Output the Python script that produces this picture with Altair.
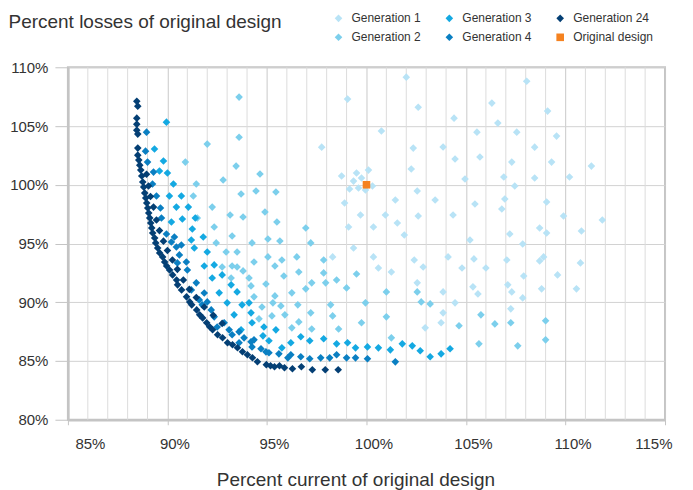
import altair as alt
import pandas as pd

# ---- data (percent of original design) ----
gen1 = [
    (99.05, 107.29), (97.75, 103.2), (98.75, 100.74), (99.5, 101.0), (99.35, 100.31), (99.75, 100.57),
    (100.1, 101.25), (99.15, 99.64), (99.6, 99.72), (99.95, 99.55), (100.3, 99.89), (98.9, 98.45),
    (99.7, 97.43), (99.1, 96.41), (100.35, 96.41), (99.35, 94.62), (100.95, 97.43), (101.45, 98.7),
    (101.55, 96.75), (101.9, 95.73), (100.75, 104.57), (102.0, 109.16), (102.6, 106.6), (102.35, 103.12),
    (102.25, 101.34), (102.55, 99.47), (102.6, 97.34), (103.45, 98.7), (103.85, 103.21), (104.45, 102.19),
    (104.4, 105.67), (104.35, 97.43), (104.95, 100.49), (108.05, 108.81), (106.3, 106.95), (109.1, 106.27),
    (106.6, 105.25), (105.55, 104.48), (107.55, 104.48), (109.55, 104.14), (108.45, 103.2), (105.7, 102.36),
    (107.3, 101.93), (109.3, 101.93), (111.3, 101.59), (106.9, 100.66), (108.45, 100.57), (110.2, 100.66),
    (107.45, 99.89), (106.95, 98.79), (105.45, 98.36), (106.8, 97.94), (109.05, 98.53), (109.9, 97.34),
    (111.85, 97.0), (107.2, 95.81), (108.7, 96.32), (109.05, 95.9), (110.8, 96.07), (105.2, 95.3),
    (107.85, 94.96), (105.4, 93.69), (107.05, 93.6), (108.7, 93.52), (108.9, 93.86), (110.75, 93.35),
    (104.8, 92.92), (106.0, 92.92), (107.9, 92.24), (109.6, 92.33), (105.35, 91.31), (105.6, 90.71),
    (107.1, 91.48), (107.3, 90.88), (108.8, 91.14), (110.55, 91.14), (107.85, 90.37), (104.45, 89.95),
    (107.25, 89.44), (100.35, 93.86), (100.6, 92.92), (101.25, 92.58), (102.4, 93.6), (102.85, 93.0),
    (104.1, 93.86), (102.55, 91.65), (103.85, 90.88), (103.85, 89.1), (103.75, 88.25), (102.95, 87.82),
    (98.3, 93.86),
]
gen2 = [
    (90.9, 101.93), (92.0, 103.46), (91.45, 100.06), (91.3, 99.04), (92.25, 98.1), (91.5, 97.17),
    (93.15, 97.43), (92.35, 96.41), (92.8, 100.4), (93.25, 95.64), (92.45, 95.05), (93.6, 104.05),
    (93.6, 107.46), (93.45, 101.59), (94.65, 100.91), (93.7, 99.21), (94.45, 99.47), (95.45, 99.38),
    (93.8, 97.26), (94.9, 97.68), (95.5, 96.83), (94.25, 95.05), (95.05, 95.38), (95.65, 95.21),
    (96.95, 96.32), (97.2, 95.05), (94.35, 93.43), (95.05, 93.86), (95.75, 93.6), (96.5, 93.86),
    (95.4, 93.09), (97.85, 93.6), (96.6, 92.58), (97.85, 92.5), (99.5, 92.41), (94.2, 91.39),
    (94.95, 91.56), (95.85, 92.24), (97.95, 91.65), (98.5, 91.9), (97.25, 91.65), (96.95, 91.14),
    (96.25, 90.8), (99.0, 91.22), (94.35, 90.46), (95.4, 90.54), (101.0, 90.88), (94.75, 89.6),
    (95.3, 89.95), (95.7, 89.69), (96.55, 89.78), (98.2, 89.78), (99.95, 89.95), (95.25, 88.84),
    (95.9, 88.93), (97.2, 89.1), (98.3, 88.84), (101.0, 88.76), (99.75, 88.25), (96.6, 88.33),
    (94.6, 88.59), (96.25, 87.82), (97.25, 87.73), (98.6, 87.73), (101.25, 86.97), (105.75, 88.93),
    (104.65, 88.0), (106.45, 88.16), (107.25, 88.25), (109.0, 88.42), (105.65, 86.46), (107.6, 86.29),
    (109.0, 86.8), (102.55, 90.88), (102.75, 90.03), (103.2, 89.86), (92.95, 94.28), (93.5, 94.28),
    (92.75, 93.0), (93.5, 93.0), (93.2, 92.07), (94.1, 92.07), (93.8, 92.67), (93.25, 93.09),
]
gen3 = [
    (89.95, 105.33), (89.35, 103.04), (89.8, 102.02), (89.6, 101.17), (90.0, 101.0), (90.3, 100.06),
    (90.1, 99.04), (90.7, 99.04), (90.45, 98.1), (91.05, 98.1), (90.2, 96.83), (90.75, 97.09),
    (91.4, 97.17), (91.25, 96.24), (91.8, 95.56), (91.2, 95.3), (91.35, 94.62), (92.0, 94.28),
    (91.85, 93.09), (92.35, 93.18), (92.25, 92.07), (92.75, 92.33), (92.6, 90.8), (93.2, 91.48),
    (93.0, 89.95), (93.5, 90.88), (93.35, 88.93), (93.75, 89.78), (93.7, 87.65), (94.2, 89.1),
    (94.25, 88.25), (94.1, 89.95), (94.85, 87.9), (95.45, 87.65), (94.8, 87.14), (95.1, 86.72),
    (95.75, 86.12), (96.2, 86.55), (96.7, 87.06), (97.15, 86.72), (97.85, 86.89), (98.5, 86.46),
    (99.05, 86.55), (99.45, 86.12), (100.05, 86.2), (100.6, 86.12), (101.2, 85.95), (101.8, 86.46),
    (102.3, 86.29), (102.7, 85.87), (103.2, 85.36), (103.75, 85.61), (104.2, 86.04),
]
gen4 = [
    (88.95, 104.48), (88.9, 102.86), (89.0, 101.93), (89.3, 101.08), (89.25, 100.06), (89.45, 99.04),
    (89.65, 98.02), (89.7, 97.17), (89.95, 95.81), (90.35, 95.56), (90.2, 95.13), (90.45, 94.7),
    (90.7, 94.87), (90.6, 94.03), (90.95, 93.43), (90.5, 93.35), (91.0, 92.75), (91.45, 91.65),
    (91.2, 91.05), (91.6, 90.2), (91.85, 90.79), (92.0, 90.03), (91.75, 89.78), (92.2, 89.35),
    (92.35, 88.76), (92.5, 87.9), (92.85, 88.25), (93.1, 87.65), (93.25, 87.23), (93.6, 87.48),
    (93.6, 86.55), (93.85, 86.97), (94.2, 86.63), (94.35, 86.8), (94.25, 86.2), (94.7, 86.04),
    (94.95, 85.78), (95.1, 85.7), (95.6, 85.61), (96.05, 85.27), (96.2, 85.53), (96.7, 85.36),
    (97.15, 85.19), (97.7, 85.27), (98.15, 85.27), (98.5, 85.53), (99.0, 85.27), (99.45, 85.27),
    (100.05, 85.19), (101.45, 84.93),
]
gen24 = [
    (88.46, 107.11), (88.51, 106.69), (88.46, 105.67), (88.46, 105.16), (88.46, 104.65), (88.51, 104.31),
    (88.51, 103.12), (88.51, 102.52), (88.56, 102.1), (88.61, 101.67), (88.66, 101.25), (88.71, 100.74),
    (88.76, 100.23), (88.81, 99.8), (88.86, 99.29), (88.91, 98.87), (88.96, 98.45), (89.01, 98.02),
    (89.06, 97.6), (89.11, 97.18), (89.16, 96.75), (89.21, 96.33), (89.26, 95.9), (89.36, 95.47),
    (89.41, 95.05), (89.51, 94.62), (89.61, 94.2), (89.76, 93.86), (89.86, 93.43), (89.96, 93.09),
    (90.11, 92.75), (90.26, 92.33), (90.46, 91.9), (90.51, 91.48), (90.71, 91.05), (90.96, 90.46),
    (91.12, 90.03), (91.22, 89.78), (91.47, 89.35), (91.62, 88.93), (91.77, 88.67), (91.97, 88.25),
    (92.12, 87.91), (92.27, 87.66), (92.52, 87.23), (92.77, 86.98), (93.02, 86.55), (93.27, 86.38),
    (93.52, 86.13), (93.77, 85.79), (94.02, 85.53), (94.27, 85.28), (94.52, 84.94), (94.97, 84.69),
    (95.18, 84.6), (95.38, 84.51), (95.63, 84.6), (95.88, 84.43), (96.28, 84.34), (96.73, 84.51),
    (97.28, 84.26), (97.93, 84.26), (98.58, 84.26),
    (88.95, 100.9), (89.05, 99.9), (89.15, 99.0), (89.3, 98.1), (89.45, 97.0), (89.6, 96.1),
    (89.8, 95.2), (90.0, 94.4), (90.25, 93.6), (90.5, 92.8), (90.8, 91.9), (91.1, 91.1),
    (91.45, 90.4), (91.85, 89.6), (92.3, 88.9), (92.75, 88.2),
]
original = [(100.0, 100.0)]

series_names = ["Generation 1", "Generation 2", "Generation 3", "Generation 4", "Generation 24", "Original design"]
series_data = [gen1, gen2, gen3, gen4, gen24, original]

legend_colors = ["#b8e3f6", "#7ccfec", "#14a9e2", "#0a7fc2", "#043f74", "#f58220"]
legend_shapes = ["diamond", "diamond", "diamond", "diamond", "diamond", "square"]
legend_sizes = [58, 58, 58, 58, 58, 82]

x_ticks = [85, 90, 95, 100, 105, 110, 115]
y_ticks = [80, 85, 90, 95, 100, 105, 110]
x_minor = [v for v in range(85, 116) if v % 5]

rows = []
for name, pts in zip(series_names, series_data):
    for x, y in pts:
        rows.append({"series": name, "current": x, "losses": y})
df = pd.DataFrame(rows)
minor_df = pd.DataFrame({"current": x_minor})

FONT = "Liberation Sans"
GRID = "#d2d2d2"
AX = "#c4c4c4"

xscale = alt.Scale(domain=[85, 115], nice=False, zero=False)
yscale = alt.Scale(domain=[80, 110], nice=False, zero=False)

x_axis = alt.Axis(
    values=x_ticks, labelExpr="datum.value + '%'", grid=True, gridColor="#c9c9c9",
    tickSize=5, tickColor=AX, domainColor=AX, domainWidth=2.5,
    labelFontSize=15, labelColor="#333333", labelFont=FONT, labelPadding=12, labelOffset=7,
    title="Percent current of original design", titleFont=FONT, titleFontSize=19,
    titleFontWeight="normal", titleColor="#333333", titleX=288, titleY=66,
    titleAlign="center", titleBaseline="alphabetic",
)
y_axis = alt.Axis(
    values=y_ticks, labelExpr="datum.value + '%'", grid=True, gridColor=GRID,
    tickSize=13, tickColor=AX, domainColor=AX, domainWidth=2.5,
    labelFontSize=15, labelColor="#333333", labelFont=FONT, labelPadding=7,
    title="Percent losses of original design", titleFont=FONT, titleFontSize=19,
    titleFontWeight="normal", titleColor="#333333", titleAngle=0, titleX=-60, titleY=-40,
    titleAlign="left", titleBaseline="alphabetic",
)

minor = alt.Chart(minor_df).mark_rule(color="#dcdcdc", strokeWidth=1).encode(
    x=alt.X("current:Q", scale=xscale, axis=x_axis)
)

points = alt.Chart(df).mark_point(filled=True, opacity=1, strokeWidth=0).encode(
    x=alt.X("current:Q", scale=xscale, axis=x_axis),
    y=alt.Y("losses:Q", scale=yscale, axis=y_axis),
    color=alt.Color(
        "series:N",
        scale=alt.Scale(domain=series_names, range=legend_colors),
        legend=alt.Legend(
            title=None, orient="none", legendX=265, legendY=-55, columns=3, columnPadding=22,
            rowPadding=7, labelFont=FONT, labelFontSize=12, labelColor="#333333", labelOffset=7,
            symbolStrokeWidth=0,
        ),
    ),
    shape=alt.Shape("series:N", scale=alt.Scale(domain=series_names, range=legend_shapes)),
    size=alt.Size("series:N", scale=alt.Scale(domain=series_names, range=legend_sizes)),
)

chart = alt.layer(minor, points).properties(
    width=598,
    height=353,
    autosize=alt.AutoSizeParams(type="none"),
    padding={"left": 60, "top": 59, "right": 20, "bottom": 73},
).configure_view(stroke="#c4c4c4", strokeWidth=2).configure_axis(gridWidth=1)

chart.save("out.html", embed_options={"renderer": "svg", "actions": False})
